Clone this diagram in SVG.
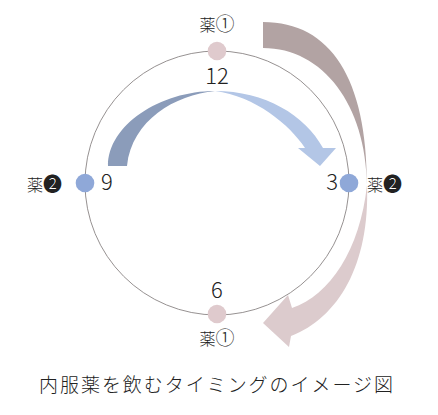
<svg xmlns="http://www.w3.org/2000/svg" width="438" height="415" viewBox="0 0 438 415">
  <style>
    .t { font-family: "Noto Sans CJK JP", "Noto Sans", "DejaVu Sans", sans-serif; font-weight: 300; fill: #222; }
    .lbl { font-size: 16px; }
    .c { font-size: 19px; }
    .num { font-size: 22px; }
    .dot1 { fill: #dfcacd; }
    .dot2 { fill: #8fa8d8; }
  </style>
  <rect width="438" height="415" fill="#fff"/>
  <g id="clock">
    <circle cx="217" cy="183" r="132" fill="none" stroke="#8a8585" stroke-width="0.9"/>
  </g>
  <g id="connectors">
    <path d="M263,22 C331,22 367,79 367,185 C366,105 323,48 263,48 Z" fill="#b2a3a3"/>
    <path d="M367,185 C370,265 338,318 291,336 L289,347 L263,323 L288,295 L292,308 C330,295 360,250 367,185 Z" fill="#dccbcd"/>
    <path d="M108,166 C108,125 160,91 215,91 C175,95 132,120 127,166 Z" fill="#8b9cba"/>
    <path d="M215,91 C265,91 305,115 323,148 L336,148 L320,166 L298,148 L305,148 C290,125 255,96 215,91 Z" fill="#b3c6e6"/>
  </g>
  <g id="node-12">
    <circle class="dot1" cx="217" cy="51" r="9.3"/>
    <text class="t lbl" x="217" y="31" text-anchor="middle">薬<tspan class="c">①</tspan></text>
    <text class="t num" x="217" y="84" text-anchor="middle">12</text>
  </g>
  <g id="node-3">
    <circle class="dot2" cx="349" cy="183" r="9.3"/>
    <text class="t num" x="338" y="190" text-anchor="end">3</text>
    <text class="t lbl" x="367" y="191">薬<tspan class="c">❷</tspan></text>
  </g>
  <g id="node-6">
    <circle class="dot1" cx="217" cy="314" r="9.3"/>
    <text class="t num" x="217" y="298" text-anchor="middle">6</text>
    <text class="t lbl" x="217" y="345" text-anchor="middle">薬<tspan class="c">①</tspan></text>
  </g>
  <g id="node-9">
    <circle class="dot2" cx="85" cy="183" r="9.3"/>
    <text class="t num" x="101" y="190">9</text>
    <text class="t lbl" x="27" y="191">薬<tspan class="c">❷</tspan></text>
  </g>
  <g id="title">
    <text class="t" x="39" y="392" font-size="19" textLength="354" lengthAdjust="spacing">内服薬を飲むタイミングのイメージ図</text>
  </g>
</svg>
